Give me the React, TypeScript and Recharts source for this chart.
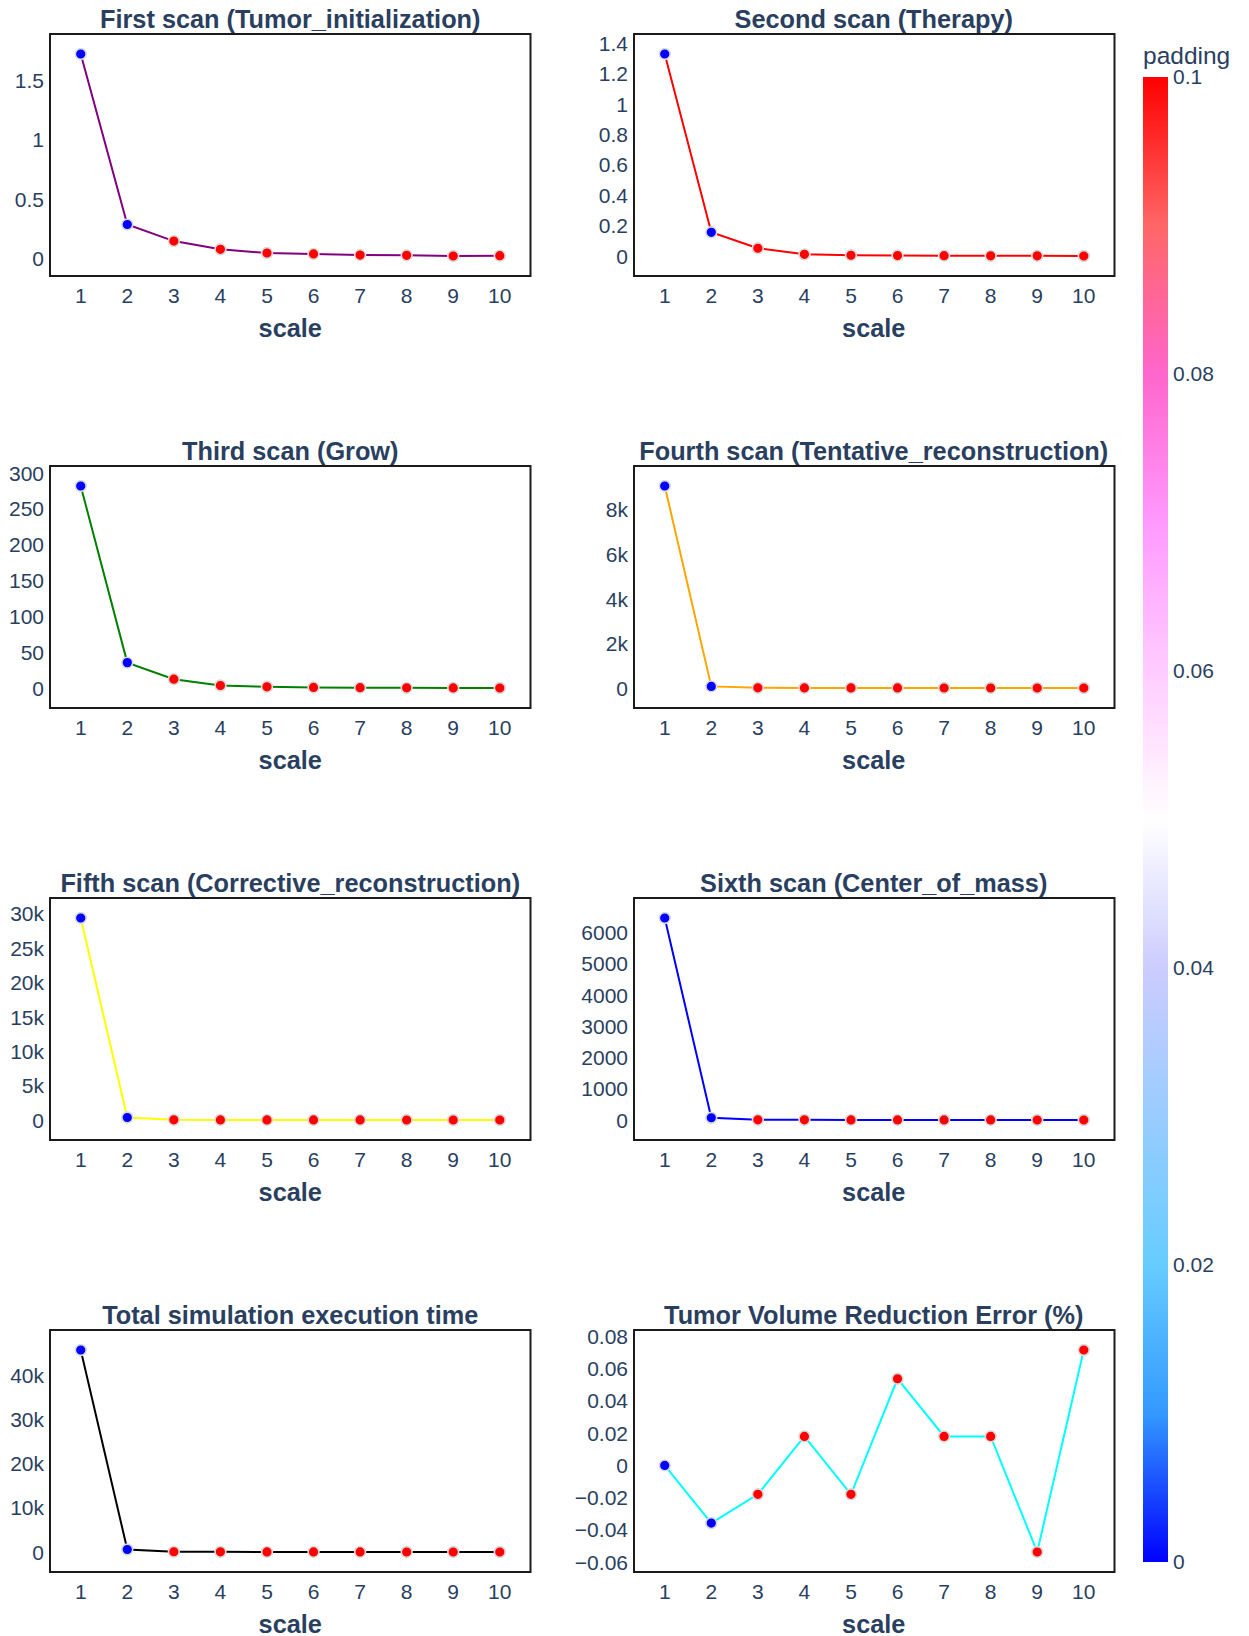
import React from 'react';
import { LineChart, Line, XAxis, YAxis, ReferenceArea, BarChart, Bar } from 'recharts';

// ---------- data ----------
const scales = [1, 2, 3, 4, 5, 6, 7, 8, 9, 10];
const paddingValues = [0, 0, 0.1, 0.1, 0.1, 0.1, 0.1, 0.1, 0.1, 0.1];

const firstScan = [1.719, 0.289, 0.15, 0.081, 0.05, 0.042, 0.033, 0.031, 0.025, 0.028];
const secondScan = [1.331, 0.157, 0.052, 0.012, 0.006, 0.004, 0.003, 0.002, 0.002, 0.001];
const thirdScan = [282, 35.6, 12.5, 3.7, 1.9, 1.0, 0.6, 0.4, 0.3, 0.2];
const fourthScan = [9080, 75, 12, 8, 6, 5, 4, 4, 3, 3];
const fifthScan = [29420, 380, 45, 30, 25, 20, 18, 16, 15, 14];
const sixthScan = [6467, 75, 10, 8, 6, 5, 4, 4, 3, 3];
const totalTime = [45810, 600, 90, 70, 60, 50, 45, 40, 38, 35];
const volumeError = [0, -0.0357, -0.0179, 0.0179, -0.0179, 0.0536, 0.0179, 0.0179, -0.0536, 0.0714];

const ticksFirst = [0, 0.5, 1, 1.5];
const ticksSecond = [0, 0.2, 0.4, 0.6, 0.8, 1, 1.2, 1.4];
const ticksThird = [0, 50, 100, 150, 200, 250, 300];
const ticksFourth = [0, 2000, 4000, 6000, 8000];
const ticksFifth = [0, 5000, 10000, 15000, 20000, 25000, 30000];
const ticksSixth = [0, 1000, 2000, 3000, 4000, 5000, 6000];
const ticksTotal = [0, 10000, 20000, 30000, 40000];
const ticksError = [-0.06, -0.04, -0.02, 0, 0.02, 0.04, 0.06, 0.08];

const colorbarTicks = [0, 0.02, 0.04, 0.06, 0.08, 0.1];
const paddingMax = 0.1;

// Plotly "Picnic" colorscale
const picnicStops: [number, number[]][] = [
  [0, [0, 0, 255]],
  [0.1, [51, 153, 255]],
  [0.2, [102, 204, 255]],
  [0.3, [153, 204, 255]],
  [0.4, [204, 204, 255]],
  [0.5, [255, 255, 255]],
  [0.6, [255, 204, 255]],
  [0.7, [255, 153, 255]],
  [0.8, [255, 102, 204]],
  [0.9, [255, 102, 102]],
  [1, [255, 0, 0]],
];

// ---------- styling ----------
const FONT = '"Liberation Sans", Arial, sans-serif';
const TEXT = '#2a3f5f';
const TICK_FS = 21;
const TITLE_FS = 25.3;

const PLOT_W = 480.5;
const PLOT_H = 242;
const YW = 64;
const MT = 12;
const MR = 14;
const XH = 40;
const X_DOMAIN: [number, number] = [0.34, 10.66];

const colLefts = [50, 633.5];
const rowTops = [34, 466.3, 898.4, 1330.3];

function colorAt(t: number): string {
  const tt = Math.max(0, Math.min(1, t));
  for (let i = 0; i < picnicStops.length - 1; i++) {
    const [a, ca] = picnicStops[i];
    const [b, cb] = picnicStops[i + 1];
    if (tt >= a && tt <= b) {
      const f = (tt - a) / (b - a);
      const c = ca.map((v, k) => Math.round(v + (cb[k] - v) * f));
      return `rgb(${c[0]},${c[1]},${c[2]})`;
    }
  }
  return 'rgb(255,0,0)';
}

const fmtPlain = (v: number) => (v < 0 ? '\u2212' + String(Math.abs(v)) : String(v));
const fmtK = (v: number) => (v === 0 ? '0' : `${v / 1000}k`);

function autoDomain(values: number[]): [number, number] {
  const mn = Math.min(...values);
  const mx = Math.max(...values);
  const pad = ((mx - mn) * 20) / (PLOT_H - 40);
  return [mn - pad, mx + pad];
}

interface PanelProps {
  title: string;
  values: number[];
  color: string;
  ticks: number[];
  fmt: (v: number) => string;
  col: number;
  row: number;
}

const renderDot = (props: any) => {
  const { cx, cy, index, payload } = props;
  if (cx == null || cy == null) return <g key={`e${index}`} />;
  return (
    <circle
      key={`d${index}`}
      cx={cx}
      cy={cy}
      r={5.4}
      fill={colorAt(payload.padding / paddingMax)}
      stroke="#d9d9d9"
      strokeWidth={1.6}
    />
  );
};

function Panel({ values, color, ticks, fmt, col, row }: PanelProps) {
  const data = scales.map((s, i) => ({ scale: s, value: values[i], padding: paddingValues[i] }));
  const dom = autoDomain(values);
  const left = colLefts[col];
  const top = rowTops[row];
  const tickStyle = { fill: TEXT, fontSize: TICK_FS, fontFamily: FONT };
  return (
    <div style={{ position: 'absolute', left: left - YW, top: top - MT }}>
      <LineChart
        width={YW + PLOT_W + MR}
        height={MT + PLOT_H + XH}
        data={data}
        margin={{ top: MT, right: MR, bottom: 0, left: 0 }}
      >
        <XAxis
          type="number"
          dataKey="scale"
          domain={X_DOMAIN}
          ticks={scales}
          interval={0}
          allowDataOverflow
          axisLine={false}
          tickLine={false}
          tickSize={0}
          tickMargin={12}
          height={XH}
          tick={tickStyle}
        />
        <YAxis
          type="number"
          domain={dom}
          ticks={ticks}
          interval={0}
          allowDataOverflow
          axisLine={false}
          tickLine={false}
          tickSize={0}
          tickMargin={6}
          width={YW}
          tick={tickStyle}
          tickFormatter={fmt}
        />
        <ReferenceArea
          x1={X_DOMAIN[0]}
          x2={X_DOMAIN[1]}
          y1={dom[0]}
          y2={dom[1]}
          fill="none"
          fillOpacity={0}
          stroke="#1a1a1a"
          strokeWidth={2}
          ifOverflow="visible"
        />
        <Line
          type="linear"
          dataKey="value"
          stroke={color}
          strokeWidth={2}
          dot={renderDot}
          activeDot={false}
          isAnimationActive={false}
        />
      </LineChart>
    </div>
  );
}

const panels: PanelProps[] = [
  { title: 'First scan (Tumor_initialization)', values: firstScan, color: '#800080', ticks: ticksFirst, fmt: fmtPlain, col: 0, row: 0 },
  { title: 'Second scan (Therapy)', values: secondScan, color: '#ff0000', ticks: ticksSecond, fmt: fmtPlain, col: 1, row: 0 },
  { title: 'Third scan (Grow)', values: thirdScan, color: '#008000', ticks: ticksThird, fmt: fmtPlain, col: 0, row: 1 },
  { title: 'Fourth scan (Tentative_reconstruction)', values: fourthScan, color: '#ffa500', ticks: ticksFourth, fmt: fmtK, col: 1, row: 1 },
  { title: 'Fifth scan (Corrective_reconstruction)', values: fifthScan, color: '#ffff00', ticks: ticksFifth, fmt: fmtK, col: 0, row: 2 },
  { title: 'Sixth scan (Center_of_mass)', values: sixthScan, color: '#0000ff', ticks: ticksSixth, fmt: fmtPlain, col: 1, row: 2 },
  { title: 'Total simulation execution time', values: totalTime, color: '#000000', ticks: ticksTotal, fmt: fmtK, col: 0, row: 3 },
  { title: 'Tumor Volume Reduction Error (%)', values: volumeError, color: '#00ffff', ticks: ticksError, fmt: fmtPlain, col: 1, row: 3 },
];

// colorbar geometry
const CB_LEFT = 1143;
const CB_TOP = 77;
const CB_W = 25;
const CB_H = 1485;
const CB_AXIS_W = 70;

function ColorBar() {
  const data = [{ name: 'padding', v: paddingMax }];
  return (
    <div style={{ position: 'absolute', left: CB_LEFT, top: CB_TOP - 10 }}>
      <BarChart
        width={CB_W + CB_AXIS_W}
        height={CB_H + 20}
        data={data}
        margin={{ top: 10, bottom: 10, left: 0, right: 0 }}
        barCategoryGap={0}
        barGap={0}
      >
        <defs>
          <linearGradient id="picnicGrad" x1="0" y1="1" x2="0" y2="0">
            {picnicStops.map(([o, c]) => (
              <stop key={o} offset={o} stopColor={`rgb(${c[0]},${c[1]},${c[2]})`} />
            ))}
          </linearGradient>
        </defs>
        <XAxis dataKey="name" hide />
        <YAxis
          orientation="right"
          type="number"
          domain={[0, paddingMax]}
          ticks={colorbarTicks}
          interval={0}
          width={CB_AXIS_W}
          axisLine={false}
          tickLine={false}
          tickSize={0}
          tickMargin={5}
          tick={{ fill: TEXT, fontSize: TICK_FS, fontFamily: FONT }}
          tickFormatter={(v: number) => String(v)}
        />
        <Bar dataKey="v" fill="url(#picnicGrad)" isAnimationActive={false} />
      </BarChart>
    </div>
  );
}

export default function App() {
  return (
    <div style={{ position: 'absolute', left: 0, top: 0, width: 1249, height: 1636, background: '#fff', overflow: 'hidden' }}>
      {panels.map((p) => (
        <Panel key={p.title} {...p} />
      ))}
      <ColorBar />
      <svg width={1249} height={1636} style={{ position: 'absolute', left: 0, top: 0, pointerEvents: 'none' }}>
        {panels.map((p) => {
          const cx = colLefts[p.col] + PLOT_W / 2;
          const top = rowTops[p.row];
          return (
            <g key={p.title}>
              <text x={cx} y={top - 6} textAnchor="middle" fontFamily={FONT} fontWeight="bold" fontSize={TITLE_FS} fill={TEXT}>
                {p.title}
              </text>
              <text x={cx} y={top + PLOT_H + 61} textAnchor="middle" fontFamily={FONT} fontWeight="bold" fontSize={TITLE_FS} fill={TEXT}>
                scale
              </text>
            </g>
          );
        })}
        <text x={CB_LEFT} y={64} textAnchor="start" fontFamily={FONT} fontSize={24.5} fill={TEXT}>
          padding
        </text>
      </svg>
    </div>
  );
}
